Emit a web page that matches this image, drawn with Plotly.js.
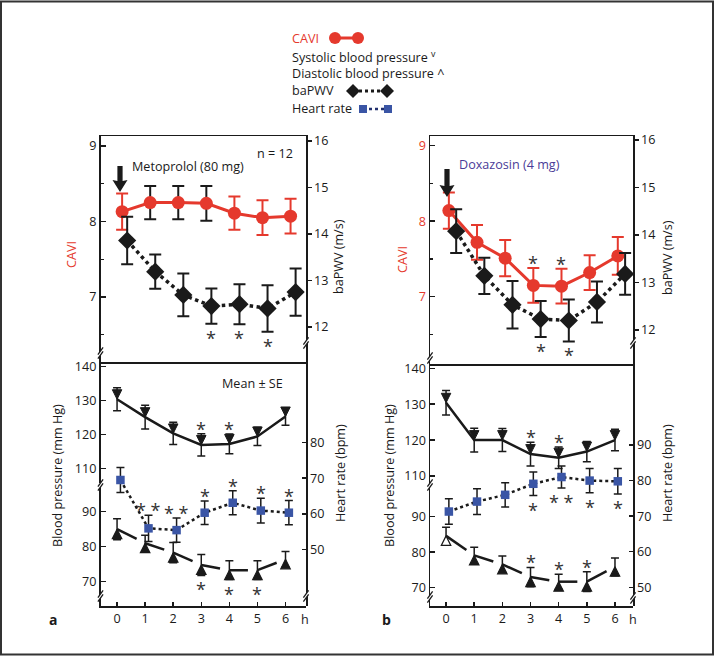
<!DOCTYPE html>
<html><head><meta charset="utf-8">
<script src="https://cdn.plot.ly/plotly-3.0.1.min.js"></script>
<style>html,body{margin:0;padding:0;background:#fff}#chart{width:714px;height:656px}</style>
</head><body><div id="chart"></div>
<script>
// ---------- data ----------
const hours = [0, 1, 2, 3, 4, 5, 6];
const hourLabels = ['0', '1', '2', '3', '4', '5', '6'];

// Panel a: Metoprolol (80 mg)
const caviA    = [8.13, 8.25, 8.25, 8.24, 8.11, 8.05, 8.07];
const caviA_se = [0.24, 0.22, 0.22, 0.23, 0.22, 0.23, 0.23];
const pwvA     = [13.86, 13.19, 12.69, 12.45, 12.49, 12.40, 12.75];
const pwvA_se  = [0.51, 0.37, 0.46, 0.38, 0.43, 0.50, 0.51];
const sbpA     = [130.4, 125.1, 120.3, 116.9, 117.2, 119.4, 125.3];
const sbpA_se  = [3.4, 3.5, 3.3, 3.3, 2.9, 2.7, 2.6];
const dbpA     = [85.0, 81.0, 78.3, 74.8, 73.3, 73.3, 76.4];
const dbpA_se  = [3.0, 2.3, 2.9, 3.0, 2.7, 2.7, 2.2];
const hrA      = [69.5, 55.9, 55.4, 60.3, 63.1, 60.9, 60.3];
const hrA_se   = [3.5, 3.7, 3.4, 3.3, 3.4, 3.5, 3.4];
const caviA_sig = ['', '', '', '', '', '', ''];
const pwvA_sig  = ['', '', '', '*', '*', '*', ''];
const sbpA_sig  = ['', '', '', '*', '*', '', ''];
const dbpA_sig  = ['', '', '', '*', '*', '*', ''];
const hrA_sig   = ['', '* *', '* *', '*', '*', '*', '*'];

// Panel b: Doxazosin (4 mg)
const caviB    = [8.14, 7.72, 7.51, 7.15, 7.14, 7.32, 7.54];
const caviB_se = [0.24, 0.23, 0.24, 0.23, 0.23, 0.23, 0.25];
const pwvB     = [14.08, 13.14, 12.53, 12.23, 12.20, 12.59, 13.18];
const pwvB_se  = [0.46, 0.38, 0.50, 0.38, 0.44, 0.43, 0.44];
const sbpB     = [130.4, 120.0, 120.0, 116.1, 115.1, 116.8, 120.0];
const sbpB_se  = [3.4, 3.3, 3.2, 3.3, 3.0, 2.8, 3.0];
const dbpB     = [84.6, 79.1, 76.6, 73.0, 71.7, 71.7, 75.9];
const dbpB_se  = [2.4, 2.3, 2.3, 2.7, 2.1, 2.8, 2.5];
const hrB      = [71.3, 74.1, 76.0, 79.1, 81.0, 80.0, 79.8];
const hrB_se   = [3.6, 3.6, 3.4, 3.3, 3.1, 3.4, 3.6];
const caviB_sig = ['', '', '', '*', '*', '', ''];
const pwvB_sig  = ['', '', '', '*', '*', '', ''];
const sbpB_sig  = ['', '', '', '*', '*', '', ''];
const dbpB_sig  = ['', '', '', '*', '*', '*', ''];
const hrB_sig   = ['', '', '', '*', '* *', '*', '*'];

const caviTicks = [7, 8, 9];
const pwvTicks = [12, 13, 14, 15, 16];
const sbpTicks = [110, 120, 130, 140];
const dbpTicks = [70, 80, 90];
const hrTicksA = [50, 60, 70, 80];
const hrTicksB = [50, 60, 70, 80, 90];

// ---------- styling / helpers ----------
const W = 714, H = 656;
const px = v => v / W;
const py = v => 1 - v / H;
const RED = '#e5392d', BLUE = '#3a55a5', INK = '#1a1a1a', STAR = '#333', PURPLE = '#4a3b97';
const FONT = '"Open Sans", sans-serif';
const FS = 12.6;

const traces = [], annotations = [], shapes = [];
const layout = {
  width: W, height: H, margin: {l: 0, r: 0, t: 0, b: 0},
  paper_bgcolor: '#fff', plot_bgcolor: 'rgba(0,0,0,0)', showlegend: false,
  font: {family: FONT, size: FS, color: INK}
};

const axName = id => id.replace(/^x/, 'xaxis').replace(/^y/, 'yaxis');
const axBase = () => ({showgrid: false, zeroline: false, showline: true, linecolor: INK, linewidth: 1.5,
  tickcolor: INK, tickwidth: 1.5, tickfont: {family: FONT, size: FS, color: INK}, fixedrange: true});

function txt(xp, yp, text, o) {
  annotations.push(Object.assign({xref: 'paper', yref: 'paper', x: px(xp), y: py(yp), text: text,
    showarrow: false, xanchor: 'center', yanchor: 'middle', font: {family: FONT, size: FS, color: INK}}, o || {}));
}

function stars(sig, x, y, se, dir, xa, ya) {
  sig.forEach((s, i) => {
    if (!s) return;
    annotations.push({xref: xa, yref: ya, x: x[i], y: dir > 0 ? y[i] + se[i] : y[i] - se[i], text: s,
      showarrow: false, xanchor: 'center', yanchor: 'middle', yshift: dir > 0 ? 5 : -14,
      font: {family: FONT, size: 18, color: STAR}});
  });
}

function brk(xp, yp) {
  const a = [xp - 2.6, yp + 1.6], b = [xp + 2.6, yp - 5.6], c = [xp - 2.6, yp + 5.6], d = [xp + 2.6, yp - 1.6];
  const P = p => px(p[0]) + ',' + py(p[1]);
  shapes.push({type: 'path', xref: 'paper', yref: 'paper', layer: 'above',
    path: 'M' + P(a) + 'L' + P(b) + 'L' + P(d) + 'L' + P(c) + 'Z', fillcolor: '#fff', line: {width: 0}});
  [[a, b], [c, d]].forEach(([s, e]) => shapes.push({type: 'line', xref: 'paper', yref: 'paper',
    x0: px(s[0]), y0: py(s[1]), x1: px(e[0]), y1: py(e[1]), line: {color: INK, width: 1.3}}));
}

function doseArrow(xp, tail, tip) {
  const P = (x, y) => px(x) + ',' + py(y);
  shapes.push({type: 'path', xref: 'paper', yref: 'paper', fillcolor: INK, line: {width: 0},
    path: 'M' + P(xp - 2.6, tail) + 'L' + P(xp + 2.6, tail) + 'L' + P(xp + 2.6, tip - 11) + 'L' + P(xp + 7.5, tip - 12) +
      'L' + P(xp, tip) + 'L' + P(xp - 7.5, tip - 12) + 'L' + P(xp - 2.6, tip - 11) + 'Z'});
}

function panel(c) {
  const xr = c.xr;
  layout[axName(c.xt)] = Object.assign(axBase(), {domain: [px(c.left), px(c.right)], anchor: c.yc,
    range: xr, showticklabels: false, ticks: '', mirror: true});
  layout[axName(c.xb)] = Object.assign(axBase(), {domain: [px(c.left), px(c.right)], anchor: c.yd,
    range: xr, tickmode: 'array', tickvals: hours, ticktext: hourLabels, ticks: 'inside', ticklen: 4});
  const cf = Object.assign(axBase().tickfont, {color: c.caviTickColor});
  layout[axName(c.yc)] = Object.assign(axBase(), {domain: [py(c.div), py(c.top)], anchor: c.xt,
    range: c.caviR, tickmode: 'array', tickvals: caviTicks, ticks: 'inside', ticklen: 5, tickfont: cf,
    minor: {ticks: 'inside', tickmode: 'linear', tick0: 0, dtick: 0.5, ticklen: 3, tickcolor: INK, tickwidth: 1.2}});
  layout[axName(c.yp)] = Object.assign(axBase(), {overlaying: c.yc, side: 'right', anchor: c.xt,
    range: c.pwvR, tickmode: 'array', tickvals: pwvTicks, ticks: 'outside', ticklen: 4});
  layout[axName(c.ys)] = Object.assign(axBase(), {domain: [py(c.sysBot), py(c.div)], anchor: c.xb,
    range: c.sysR, tickmode: 'array', tickvals: sbpTicks, ticks: 'inside', ticklen: 5});
  layout[axName(c.yd)] = Object.assign(axBase(), {domain: [py(c.bottom), py(c.diaTop)], anchor: c.xb,
    range: c.diaR, tickmode: 'array', tickvals: dbpTicks, ticks: 'inside', ticklen: 5});
  layout[axName(c.yh)] = Object.assign(axBase(), {domain: [py(c.bottom), py(c.div)], anchor: c.xb, side: 'right',
    range: c.hrR, tickmode: 'array', tickvals: c.hrTicks, ticks: 'inside', ticklen: 4});

  const xc = hours.map(h => h + c.caviOff), xp2 = hours.map(h => h + c.pwvOff), xh = hours.map(h => h + c.hrOff);

  // CAVI error bars (coloured per point as in the figure)
  [...new Set(c.caviErrColor)].forEach(col => {
    traces.push({type: 'scatter', mode: 'markers', x: xc, y: c.cavi, xaxis: c.xt, yaxis: c.yc,
      marker: {size: 1, opacity: 0}, hoverinfo: 'skip', cliponaxis: false,
      error_y: {type: 'data', array: c.caviSe.map((s, i) => c.caviErrColor[i] === col ? s : NaN),
        color: col, thickness: 2, width: 6}});
  });
  traces.push({type: 'scatter', mode: 'lines+markers', x: xc, y: c.cavi, xaxis: c.xt, yaxis: c.yc, cliponaxis: false,
    line: {color: RED, width: 3}, marker: {symbol: 'circle', size: 13, color: RED}});
  traces.push({type: 'scatter', mode: 'lines+markers', x: xp2, y: c.pwv, xaxis: c.xt, yaxis: c.yp, cliponaxis: false,
    line: {color: INK, width: 3.5, dash: 'dot'}, marker: {symbol: 'diamond', size: 14, color: INK},
    error_y: {type: 'data', array: c.pwvSe, color: INK, thickness: 2, width: 6}});
  traces.push({type: 'scatter', mode: 'lines+markers', x: hours, y: c.sbp, xaxis: c.xb, yaxis: c.ys, cliponaxis: false,
    line: {color: INK, width: 2.5}, marker: {symbol: 'arrow-down', size: 9.5, color: INK, line: {color: INK, width: 1}},
    error_y: {type: 'data', array: c.sbpSe, color: INK, thickness: 1.5, width: 4}});
  traces.push({type: 'scatter', mode: 'lines+markers', x: hours, y: c.dbp, xaxis: c.xb, yaxis: c.yd, cliponaxis: false,
    line: {color: INK, width: 2.5}, marker: {symbol: 'arrow-up', size: 9.5, color: c.dbpFill, line: {color: INK, width: 1.2}},
    error_y: {type: 'data', array: c.dbpSe, color: INK, thickness: 1.5, width: 4}});
  traces.push({type: 'scatter', mode: 'lines+markers', x: xh, y: c.hr, xaxis: c.xb, yaxis: c.yh, cliponaxis: false,
    line: {color: INK, width: 2.5, dash: 'dot'}, marker: {symbol: 'square', size: 8.5, color: BLUE},
    error_y: {type: 'data', array: c.hrSe, color: INK, thickness: 1.5, width: 4}});

  stars(c.caviSig, xc, c.cavi, c.caviSe, c.caviDir, c.xt, c.yc);
  stars(c.pwvSig, xp2, c.pwv, c.pwvSe, -1, c.xt, c.yp);
  stars(c.sbpSig, hours, c.sbp, c.sbpSe, 1, c.xb, c.ys);
  stars(c.dbpSig, hours, c.dbp, c.dbpSe, c.dbpDir, c.xb, c.yd);
  stars(c.hrSig, xh, c.hr, c.hrSe, c.hrDir, c.xb, c.yh);

  c.breaks.forEach(b => brk(b[0], b[1]));
}

panel({
  xb: 'x', xt: 'x2', yc: 'y', yp: 'y2', ys: 'y3', yd: 'y4', yh: 'y5',
  left: 100.5, right: 306, top: 136, div: 362, sysBot: 483, diaTop: 487, bottom: 606,
  xr: [-0.59, 6.73], caviR: [6.139, 9.132], pwvR: [11.247, 16.108],
  sysR: [105.66, 141.39], diaR: [63.06, 97.06], hrR: [34.06, 102.69], hrTicks: hrTicksA,
  caviTickColor: INK, caviOff: 0.18, pwvOff: 0.36, hrOff: 0.12,
  cavi: caviA, caviSe: caviA_se, pwv: pwvA, pwvSe: pwvA_se, sbp: sbpA, sbpSe: sbpA_se,
  dbp: dbpA, dbpSe: dbpA_se, hr: hrA, hrSe: hrA_se,
  caviErrColor: [RED, INK, INK, INK, RED, RED, RED], dbpFill: INK,
  caviSig: caviA_sig, pwvSig: pwvA_sig, sbpSig: sbpA_sig, dbpSig: dbpA_sig, hrSig: hrA_sig,
  caviDir: 1, dbpDir: -1, hrDir: 1,
  breaks: [[100.5, 353], [100.5, 485], [100.5, 596], [306, 343], [306, 596]]
});
panel({
  xb: 'x3', xt: 'x4', yc: 'y6', yp: 'y7', ys: 'y8', yd: 'y9', yh: 'y10',
  left: 430, right: 633, top: 136, div: 364, sysBot: 483, diaTop: 487, bottom: 606,
  xr: [-0.57, 6.64], caviR: [6.109, 9.128], pwvR: [11.284, 16.084],
  sysR: [108.05, 141.2], diaR: [64.85, 98.37], hrR: [44.75, 112.77], hrTicks: hrTicksB,
  caviTickColor: RED, caviOff: 0.1, pwvOff: 0.36, hrOff: 0.1,
  cavi: caviB, caviSe: caviB_se, pwv: pwvB, pwvSe: pwvB_se, sbp: sbpB, sbpSe: sbpB_se,
  dbp: dbpB, dbpSe: dbpB_se, hr: hrB, hrSe: hrB_se,
  caviErrColor: [RED, RED, RED, RED, RED, RED, RED], dbpFill: ['#fff', INK, INK, INK, INK, INK, INK],
  caviSig: caviB_sig, pwvSig: pwvB_sig, sbpSig: sbpB_sig, dbpSig: dbpB_sig, hrSig: hrB_sig,
  caviDir: 1, dbpDir: 1, hrDir: -1,
  breaks: [[430, 358], [430, 485], [430, 597], [633, 343], [633, 598]]
});

// ---------- axis titles ----------
txt(72, 255, 'CAVI', {textangle: -90, font: {family: FONT, size: FS, color: RED}});
txt(338, 257, 'baPWV (m/s)', {textangle: -90});
txt(57, 475, 'Blood pressure (mm Hg)', {textangle: -90});
txt(340, 473, 'Heart rate (bpm)', {textangle: -90});
txt(402, 260, 'CAVI', {textangle: -90, font: {family: FONT, size: FS, color: RED}});
txt(667, 258, 'baPWV (m/s)', {textangle: -90});
txt(389, 475, 'Blood pressure (mm Hg)', {textangle: -90});
txt(667, 473, 'Heart rate (bpm)', {textangle: -90});

// ---------- panel texts ----------
txt(130, 166, 'Metoprolol (80 mg)', {xanchor: 'left'});
txt(295, 153, 'n = 12', {xanchor: 'right'});
txt(285, 383, 'Mean ± SE', {xanchor: 'right'});
txt(457, 164, 'Doxazosin (4 mg)', {xanchor: 'left', font: {family: FONT, size: FS, color: PURPLE}});
txt(299, 619, 'h', {xanchor: 'left'});
txt(627, 619, 'h', {xanchor: 'left'});
txt(53, 619, '<b>a</b>', {font: {family: FONT, size: 14, color: INK}});
txt(386, 619, '<b>b</b>', {font: {family: FONT, size: 14, color: INK}});

// dosing arrows
doseArrow(120, 166, 192);
doseArrow(447, 169, 197);

// ---------- key ----------
txt(290, 38, 'CAVI', {xanchor: 'left', font: {family: FONT, size: FS, color: RED}});
shapes.push({type: 'line', xref: 'paper', yref: 'paper', x0: px(335), x1: px(358), y0: py(38), y1: py(38), line: {color: RED, width: 3}});
[335, 358].forEach(cx => shapes.push({type: 'circle', xref: 'paper', yref: 'paper',
  x0: px(cx - 6), x1: px(cx + 6), y0: py(44), y1: py(32), fillcolor: RED, line: {color: RED, width: 0}}));
txt(290, 57, 'Systolic blood pressure <sup>v</sup>', {xanchor: 'left'});
txt(290, 73, 'Diastolic blood pressure ^', {xanchor: 'left'});
txt(290, 91, 'baPWV', {xanchor: 'left'});
shapes.push({type: 'line', xref: 'paper', yref: 'paper', x0: px(353), x1: px(387), y0: py(91), y1: py(91), line: {color: INK, width: 3, dash: 'dot'}});
[353, 387].forEach(cx => shapes.push({type: 'path', xref: 'paper', yref: 'paper', fillcolor: INK, line: {width: 0},
  path: 'M' + px(cx - 7) + ',' + py(91) + 'L' + px(cx) + ',' + py(84) + 'L' + px(cx + 7) + ',' + py(91) + 'L' + px(cx) + ',' + py(98) + 'Z'}));
txt(290, 109, 'Heart rate', {xanchor: 'left'});
shapes.push({type: 'line', xref: 'paper', yref: 'paper', x0: px(363), x1: px(388), y0: py(109), y1: py(109), line: {color: '#22306e', width: 2.5, dash: 'dot'}});
[363, 388].forEach(cx => shapes.push({type: 'rect', xref: 'paper', yref: 'paper',
  x0: px(cx - 4), x1: px(cx + 4), y0: py(113), y1: py(105), fillcolor: BLUE, line: {width: 0}}));

// outer frame
shapes.push({type: 'rect', xref: 'paper', yref: 'paper', x0: px(1), x1: px(713), y0: py(654.5), y1: py(1.5),
  line: {color: '#333', width: 2}, fillcolor: 'rgba(0,0,0,0)'});

layout.annotations = annotations;
layout.shapes = shapes;
Plotly.newPlot('chart', traces, layout, {staticPlot: true, displayModeBar: false});
</script></body></html>
